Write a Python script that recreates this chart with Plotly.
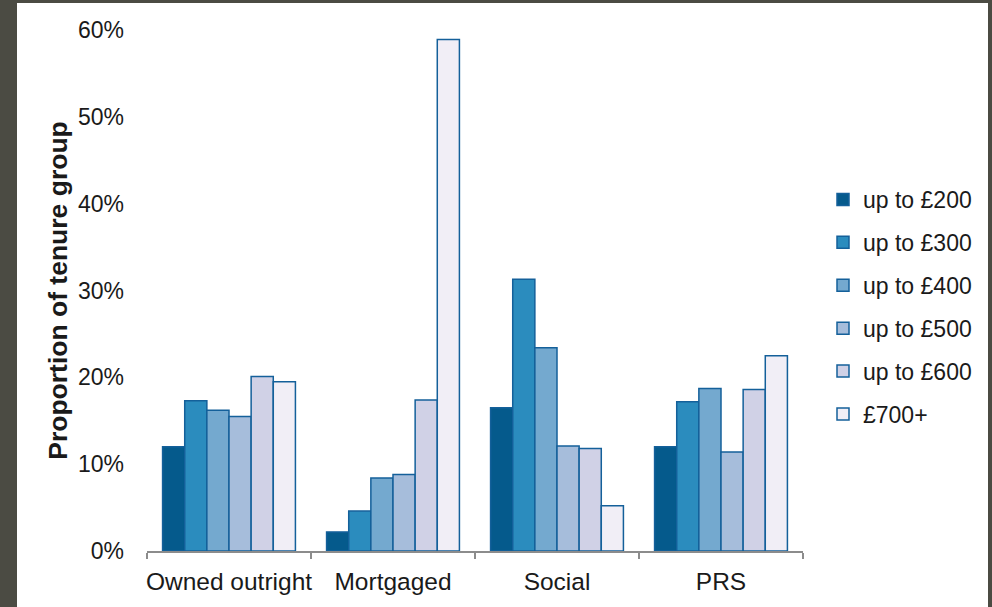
import plotly.graph_objects as go

# Tenure groups along the x axis
tenures = ["Owned outright", "Mortgaged", "Social", "PRS"]

# Weekly income bands (one series per band)
bands = ["up to £200", "up to £300", "up to £400", "up to £500", "up to £600", "£700+"]

# Share of each tenure group falling in each income band
up_to_200 = [0.120, 0.022, 0.165, 0.120]
up_to_300 = [0.173, 0.046, 0.313, 0.172]
up_to_400 = [0.162, 0.084, 0.234, 0.187]
up_to_500 = [0.155, 0.088, 0.121, 0.114]
up_to_600 = [0.201, 0.174, 0.118, 0.186]
over_700 = [0.195, 0.589, 0.052, 0.225]

series = [up_to_200, up_to_300, up_to_400, up_to_500, up_to_600, over_700]
fills = ["#055a8c", "#2b8cbe", "#74a9cf", "#a6bddb", "#d0d1e6", "#f1eef6"]
outline = "#14609a"

W, H = 992, 607
ML, MR, MT, MB = 147, 189, 30, 56
PW, PH = W - ML - MR, H - MT - MB


def px_x(px):
    return (px - ML) / PW


def px_y(py):
    return (H - MB - py) / PH


FONT = "Liberation Sans, Arial, sans-serif"

fig = go.Figure()
for name, vals, col in zip(bands, series, fills):
    fig.add_trace(go.Bar(
        x=tenures, y=vals, name=name, legendgroup=name,
        marker=dict(color=col, line=dict(color=outline, width=1.5)),
    ))

# White card on a dark frame
fig.add_shape(type="rect", xref="paper", yref="paper",
              x0=px_x(17), x1=px_x(988), y0=px_y(H + 5), y1=px_y(3),
              fillcolor="white", line_width=0, layer="below")

fig.update_layout(
    width=W, height=H,
    margin=dict(l=ML, r=MR, t=MT, b=MB, autoexpand=False),
    paper_bgcolor="#4b4b43", plot_bgcolor="white",
    barmode="group", bargap=0.19, bargroupgap=0,
    font=dict(family=FONT, size=23, color="#1a1a1a"),
    showlegend=True,
    legend=dict(x=px_x(823), y=px_y(178), xanchor="left", yanchor="top",
                bgcolor="rgba(0,0,0,0)", tracegroupgap=10,
                font=dict(size=23, family=FONT, color="#1a1a1a")),
    xaxis=dict(showline=True, linecolor="#8c8c8c", linewidth=2,
               ticks="outside", ticklen=6, tickwidth=2, tickcolor="#8c8c8c",
               tickson="boundaries", tickangle=0, ticklabelstandoff=8,
               tickfont=dict(size=24.5), showgrid=False),
    yaxis=dict(range=[0, 0.6], dtick=0.1, tickformat=".0%",
               showline=False, showgrid=False, zeroline=False, ticks="",
               ticklabelstandoff=22,
               title=dict(text="<b>Proportion of tenure group</b>", standoff=2,
                          font=dict(size=26.5, family=FONT, color="#1a1a1a"))),
)

fig.write_html("out.html")
